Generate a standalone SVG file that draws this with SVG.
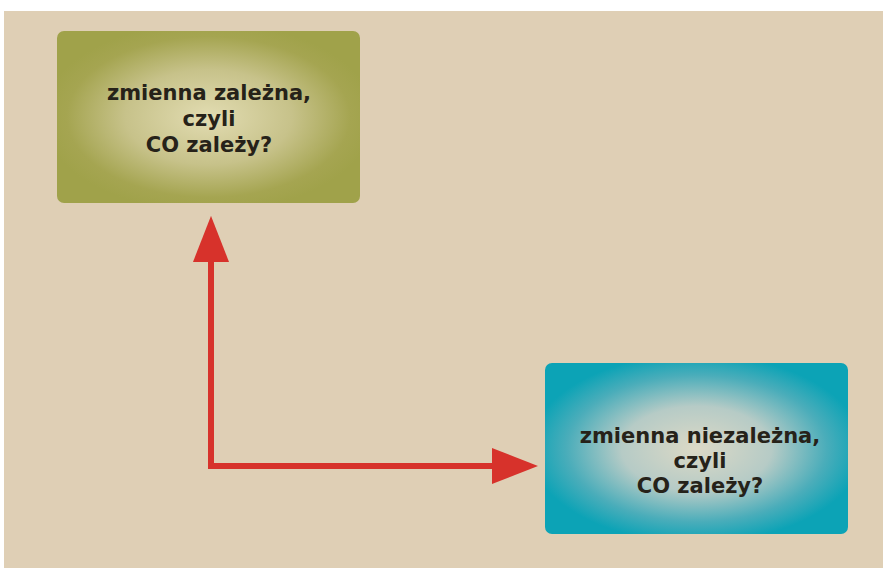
<svg xmlns="http://www.w3.org/2000/svg" width="883" height="568" viewBox="0 0 883 568">
<defs>
<radialGradient id="gGreen" cx="0.5" cy="0.5" r="0.55">
<stop offset="0" stop-color="#e2dcb2"/>
<stop offset="0.5" stop-color="#c7c28a"/>
<stop offset="0.85" stop-color="#a5a551"/>
<stop offset="1" stop-color="#a0a24a"/>
</radialGradient>
<radialGradient id="gBlue" cx="0.5" cy="0.5" r="0.55">
<stop offset="0" stop-color="#dcd9c6"/>
<stop offset="0.45" stop-color="#b6cbc6"/>
<stop offset="0.78" stop-color="#4aadba"/>
<stop offset="1" stop-color="#0ca3b6"/>
</radialGradient>
<marker id="head" viewBox="0 0 46 36" refX="0" refY="18" markerWidth="46" markerHeight="36" markerUnits="userSpaceOnUse" orient="auto">
<path d="M0,0 L46,18 L0,36 Z" fill="#d7322b"/>
</marker>
</defs>
<style>
.lbl{font-family:"DejaVu Sans","Noto Sans",sans-serif;font-weight:bold;font-size:21px;fill:#262219;text-anchor:middle}
.conn{fill:none;stroke:#d7322b;stroke-width:6}
</style>
<rect x="0" y="0" width="883" height="568" fill="#ffffff"/>
<rect x="4" y="11" width="879" height="557" fill="#dfcfb5"/>
<g id="connectors">
<path class="conn" d="M211,262 L211,466 L492,466" marker-end="url(#head)"/>
<path d="M211,262 L211,262.1" class="conn" marker-end="url(#head)" transform="rotate(180 211 262)" style="stroke:none"/>
</g>
<g id="node-dependent">
<rect x="57" y="31" width="303" height="172" rx="7" fill="url(#gGreen)"/>
<text class="lbl" x="209" y="100">zmienna zależna,</text>
<text class="lbl" x="209" y="126">czyli</text>
<text class="lbl" x="209" y="152">CO zależy?</text>
</g>
<g id="node-independent">
<rect x="545" y="363" width="303" height="171" rx="7" fill="url(#gBlue)"/>
<text class="lbl" x="700" y="443">zmienna niezależna,</text>
<text class="lbl" x="700" y="468">czyli</text>
<text class="lbl" x="700" y="493">CO zależy?</text>
</g>
</svg>
